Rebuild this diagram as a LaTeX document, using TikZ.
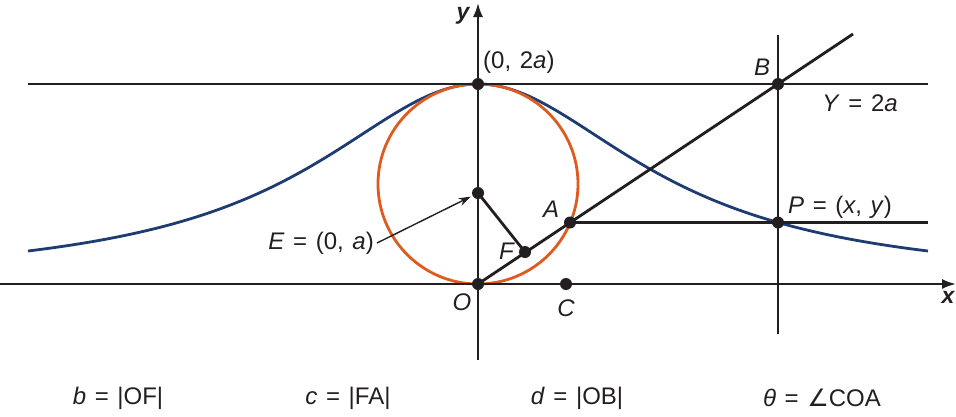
\documentclass[tikz,border=0pt]{standalone}
\usepackage{fontspec}
\setmainfont{Liberation Sans}
\newfontfamily\symfont{DejaVu Sans}
\usetikzlibrary{arrows.meta}
\definecolor{ink}{HTML}{231F20}
\definecolor{witch}{HTML}{1D3C72}
\definecolor{circ}{HTML}{DE5B1F}
\newcommand\lblfont{\fontsize{24}{28}\selectfont\spaceskip 0.36em\relax}
\newcommand\axfont{\fontsize{23}{27}\selectfont\bfseries\itshape}
\begin{document}
\begin{tikzpicture}[x=1pt,y=-1pt,
  dot/.style={circle,fill=ink,inner sep=0pt,minimum size=12pt},
  lbl/.style={font=\lblfont,text=ink,inner sep=0pt},
  ln/.style={draw=ink,line width=2.8pt},
  ax/.style={draw=ink,line width=2pt},
  axtip/.style={-{Latex[length=14pt,width=10pt]}}]
\useasboundingbox (0,0) rectangle (956,416);
% curves
\draw[witch,line width=2.8pt] plot[domain=-450:450,samples=181,smooth] ({478+\x},{284-200/(1+(\x/200)^2)});
\draw[circ,line width=2.8pt] (478,184) circle[radius=100pt];
% coordinates
\coordinate (hl) at (28,84);
\coordinate (hr) at (928,84);
\coordinate (vt) at (778,35);
\coordinate (vb) at (778,334);
\coordinate (lend) at (853,34);
\coordinate (pr) at (928,222.5);
\coordinate (xl) at (0,284);
\coordinate (xr) at (956,284);
\coordinate (yb) at (478,360);
\coordinate (yt) at (478,3);
% axes
\draw[ax,axtip] (xl) -- (xr);
\draw[ax,axtip] (yb) -- (yt);
% points
\node[dot] (O) at (478,284) {};
\node[dot] (T) at (478,84) {};
\node[dot] (E) at (478,193) {};
\node[dot] (F) at (525,252) {};
\node[dot] (A) at (570,222.5) {};
\node[dot] (B) at (778,84) {};
\node[dot] (P) at (778,222.5) {};
\node[dot] (C) at (566,284) {};
% lines
\draw[ln] (hl) -- (hr);
\draw[ln] (vt) -- (vb);
\draw[ln] (O.center) -- (lend);
\draw[ln] (A.center) -- (pr);
\draw[ln] (E.center) -- (F.center);
% labels
\node[lbl,font=\axfont] (ylbl) at (463,16) {y};
\node[lbl,font=\axfont] (xlbl) at (948,297) {x};
\node[lbl,anchor=west] (Tlbl) at (483,62) {(0, 2\textit{a})};
\node[lbl] (Blbl) at (762,67) {\textit{B}};
\node[lbl] (Ylbl) at (860,103) {\textit{Y} = 2\textit{a}};
\node[lbl] (Plbl) at (840,207) {\textit{P} = (\textit{x}, \textit{y})};
\node[lbl] (Albl) at (551,209) {\textit{A}};
\node[lbl] (Flbl) at (507,251) {\textit{F}};
\node[lbl,anchor=east] (Elbl) at (374,243) {\textit{E} = (0, \textit{a})};
\node[lbl] (Olbl) at (462,302) {\textit{O}};
\node[lbl] (Clbl) at (566,308) {\textit{C}};
\draw[draw=ink,line width=1.4pt,-{Stealth[length=12pt,width=8pt]},shorten >=2pt] ([xshift=3pt]Elbl.east) -- (E);
% bottom
\node[lbl] (b1) at (118,398) {\textit{b} = |OF|};
\node[lbl] (b2) at (348,398) {\textit{c} = |FA|};
\node[lbl] (b3) at (577,398) {\textit{d} = |OB|};
\node[lbl] (b4) at (822,398) {\textit{θ} = {\symfont ∠}COA};
\end{tikzpicture}
\end{document}
